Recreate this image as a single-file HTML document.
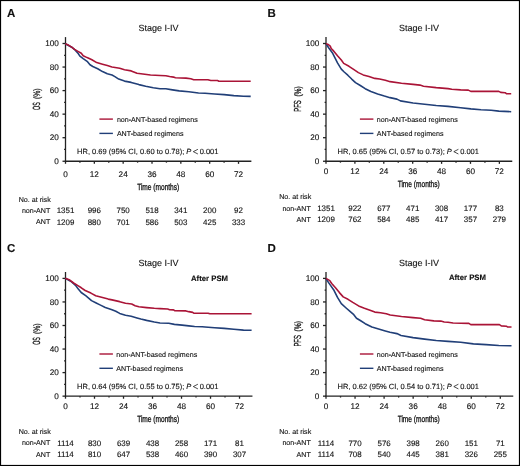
<!DOCTYPE html><html><head><meta charset="utf-8"><title>Kaplan-Meier curves</title><style>html,body{margin:0;padding:0;background:#fff}svg{display:block}text{font-family:"Liberation Sans", sans-serif;fill:#111;stroke:#111;stroke-width:0.12px;text-rendering:geometricPrecision}svg{will-change:transform}</style></head><body>
<svg width="520" height="466" viewBox="0 0 520 466">
<rect x="0" y="0" width="520" height="466" fill="#fff"/>
<rect x="0.5" y="0.5" width="519" height="465" fill="none" stroke="#000" stroke-width="1.2"/>
<g transform="translate(0,0)">
<text x="7" y="17" font-size="11.5" font-weight="bold" fill="#000">A</text>
<text x="158.4" y="31.2" font-size="9" text-anchor="middle">Stage I-IV</text>
<g stroke="#222" stroke-width="1.3" fill="none">
<path d="M65.5 37.1V163.8"/>
<path d="M64.9 161.25H251.37"/>
<path d="M62.5 161.25H65.5"/>
<path d="M64.1 149.47H65.5"/>
<path d="M62.5 137.7H65.5"/>
<path d="M64.1 125.92H65.5"/>
<path d="M62.5 114.15H65.5"/>
<path d="M64.1 102.38H65.5"/>
<path d="M62.5 90.6H65.5"/>
<path d="M64.1 78.83H65.5"/>
<path d="M62.5 67.05H65.5"/>
<path d="M64.1 55.28H65.5"/>
<path d="M62.5 43.5H65.5"/>
<path d="M79.92 161.25V162.65"/>
<path d="M94.34 161.25V163.85"/>
<path d="M108.75 161.25V162.65"/>
<path d="M123.17 161.25V163.85"/>
<path d="M137.59 161.25V162.65"/>
<path d="M152.01 161.25V163.85"/>
<path d="M166.43 161.25V162.65"/>
<path d="M180.84 161.25V163.85"/>
<path d="M195.26 161.25V162.65"/>
<path d="M209.68 161.25V163.85"/>
<path d="M224.1 161.25V162.65"/>
<path d="M238.52 161.25V163.85"/>
</g>
<text x="58.9" y="163.85" font-size="8.2" text-anchor="end">0</text>
<text x="58.9" y="140.3" font-size="8.2" text-anchor="end">20</text>
<text x="58.9" y="116.75" font-size="8.2" text-anchor="end">40</text>
<text x="58.9" y="93.2" font-size="8.2" text-anchor="end">60</text>
<text x="58.9" y="69.65" font-size="8.2" text-anchor="end">80</text>
<text x="58.9" y="46.1" font-size="8.2" text-anchor="end">100</text>
<text transform="translate(40.1,109.9) rotate(-90) scale(0.51,1)" font-size="10.4" style="stroke-width:0.3px;text-rendering:geometricPrecision">OS</text>
<text transform="translate(40.1,99.1) rotate(-90) scale(0.73,1)" font-size="9.4" style="stroke-width:0.3px;text-rendering:geometricPrecision">(%)</text>
<path d="M99.4 119.1H112.9" stroke="#aa1437" stroke-width="1.4"/>
<path d="M99.4 133.4H112.9" stroke="#213f78" stroke-width="1.4"/>
<text x="116.9" y="122.2" font-size="7.1">non-ANT-based regimens</text>
<text x="116.9" y="136" font-size="7.1">ANT-based regimens</text>
<text x="77.1" y="154.3" font-size="7.5">HR, 0.69 (95% CI, 0.60 to 0.78); <tspan font-style="italic">P</tspan><tspan x="199.7">0.001</tspan></text>
<path d="M197.9 149.3L193.3 151.65L197.9 154" fill="none" stroke="#111" stroke-width="0.75"/>
<g transform="translate(0,0)">
<text x="65.5" y="176.8" font-size="8.2" text-anchor="middle">0</text>
<text x="94.34" y="176.8" font-size="8.2" text-anchor="middle">12</text>
<text x="123.17" y="176.8" font-size="8.2" text-anchor="middle">24</text>
<text x="152.01" y="176.8" font-size="8.2" text-anchor="middle">36</text>
<text x="180.84" y="176.8" font-size="8.2" text-anchor="middle">48</text>
<text x="209.68" y="176.8" font-size="8.2" text-anchor="middle">60</text>
<text x="238.52" y="176.8" font-size="8.2" text-anchor="middle">72</text>
<text transform="translate(158.2,189.6) scale(0.73,1)" font-size="9" text-anchor="middle" style="stroke-width:0.3px">Time (months)</text>
<text x="18.75" y="201.75" font-size="7.1">No. at risk</text>
<text x="50.3" y="212.9" font-size="7.1" text-anchor="end">non-ANT</text>
<text x="50.3" y="224.3" font-size="7.1" text-anchor="end">ANT</text>
<text x="65.5" y="213.2" font-size="7.95" text-anchor="middle">1351</text>
<text x="65.5" y="224.5" font-size="7.95" text-anchor="middle">1209</text>
<text x="94.34" y="213.2" font-size="7.95" text-anchor="middle">996</text>
<text x="94.34" y="224.5" font-size="7.95" text-anchor="middle">880</text>
<text x="123.17" y="213.2" font-size="7.95" text-anchor="middle">750</text>
<text x="123.17" y="224.5" font-size="7.95" text-anchor="middle">701</text>
<text x="152.01" y="213.2" font-size="7.95" text-anchor="middle">518</text>
<text x="152.01" y="224.5" font-size="7.95" text-anchor="middle">586</text>
<text x="180.84" y="213.2" font-size="7.95" text-anchor="middle">341</text>
<text x="180.84" y="224.5" font-size="7.95" text-anchor="middle">503</text>
<text x="209.68" y="213.2" font-size="7.95" text-anchor="middle">200</text>
<text x="209.68" y="224.5" font-size="7.95" text-anchor="middle">425</text>
<text x="238.52" y="213.2" font-size="7.95" text-anchor="middle">92</text>
<text x="238.52" y="224.5" font-size="7.95" text-anchor="middle">333</text>
</g>
</g>
<path d="M65.3 43.7 71.7 47.2 75.5 50.4 78.4 53.8 79.9 56.2 83.2 58.6 87.1 61.3 90 64.8 92.8 66.5 97.7 68.7 102.5 71.6 107.3 73.8 112 75 114.9 76.6 118.7 79.05 124.5 81.1 131.2 82.4 138.9 84.6 145.7 86.3 153.3 87.8 160 88.7 165.8 88.8 172.5 89.9 179.2 90.9 188.8 91.8 198.5 93 205 93.2 214.6 94 224.2 94.6 233.8 95.6 243.5 96.3 250.7 96.4" fill="none" stroke="#213f78" stroke-width="1.6" stroke-linejoin="round" stroke-linecap="butt"/>
<path d="M65.3 43.7 68.8 45.3 71.7 47.2 74.6 49.4 77.5 51.1 81.3 53.3 83.2 55.7 87.1 57.6 91.9 59.8 96.7 62.6 102.5 64.3 107.3 65.6 112 67 119.7 68.3 124.5 69.7 131.2 70.9 137 73.3 142.8 74.05 150.5 75 160 75.5 165.8 75.7 169.6 76.5 173.5 77.1 175.4 77.8 186 78.1 190.8 78.8 193.7 79.7 207.9 79.7 210.8 80.5 217.5 80.5 218.9 81.2 250.7 81.2" fill="none" stroke="#aa1437" stroke-width="1.6" stroke-linejoin="round" stroke-linecap="butt"/>
<g transform="translate(260.5,0)">
<text x="7" y="17" font-size="11.5" font-weight="bold" fill="#000">B</text>
<text x="158.4" y="31.2" font-size="9" text-anchor="middle">Stage I-IV</text>
<g stroke="#222" stroke-width="1.3" fill="none">
<path d="M65.5 37.1V163.8"/>
<path d="M64.9 161.25H251.76"/>
<path d="M62.5 161.25H65.5"/>
<path d="M64.1 149.47H65.5"/>
<path d="M62.5 137.7H65.5"/>
<path d="M64.1 125.92H65.5"/>
<path d="M62.5 114.15H65.5"/>
<path d="M64.1 102.38H65.5"/>
<path d="M62.5 90.6H65.5"/>
<path d="M64.1 78.83H65.5"/>
<path d="M62.5 67.05H65.5"/>
<path d="M64.1 55.28H65.5"/>
<path d="M62.5 43.5H65.5"/>
<path d="M79.95 161.25V162.65"/>
<path d="M94.4 161.25V163.85"/>
<path d="M108.84 161.25V162.65"/>
<path d="M123.29 161.25V163.85"/>
<path d="M137.74 161.25V162.65"/>
<path d="M152.19 161.25V163.85"/>
<path d="M166.64 161.25V162.65"/>
<path d="M181.08 161.25V163.85"/>
<path d="M195.53 161.25V162.65"/>
<path d="M209.98 161.25V163.85"/>
<path d="M224.43 161.25V162.65"/>
<path d="M238.88 161.25V163.85"/>
</g>
<text x="58.9" y="163.85" font-size="8.2" text-anchor="end">0</text>
<text x="58.9" y="140.3" font-size="8.2" text-anchor="end">20</text>
<text x="58.9" y="116.75" font-size="8.2" text-anchor="end">40</text>
<text x="58.9" y="93.2" font-size="8.2" text-anchor="end">60</text>
<text x="58.9" y="69.65" font-size="8.2" text-anchor="end">80</text>
<text x="58.9" y="46.1" font-size="8.2" text-anchor="end">100</text>
<text transform="translate(40.1,111.7) rotate(-90) scale(0.58,1)" font-size="10.2" style="stroke-width:0.3px;text-rendering:geometricPrecision">PFS</text>
<text transform="translate(40.1,96.6) rotate(-90) scale(0.71,1)" font-size="9.4" style="stroke-width:0.3px;text-rendering:geometricPrecision">(%)</text>
<path d="M99.4 119.1H112.9" stroke="#aa1437" stroke-width="1.4"/>
<path d="M99.4 133.4H112.9" stroke="#213f78" stroke-width="1.4"/>
<text x="116.35" y="122.2" font-size="7.1">non-ANT-based regimens</text>
<text x="116.35" y="136" font-size="7.1">ANT-based regimens</text>
<text x="77.1" y="154.3" font-size="7.5">HR, 0.65 (95% CI, 0.57 to 0.73); <tspan font-style="italic">P</tspan><tspan x="199.7">0.001</tspan></text>
<path d="M197.9 149.3L193.3 151.65L197.9 154" fill="none" stroke="#111" stroke-width="0.75"/>
<g transform="translate(0,-2.35)">
<text x="65.5" y="176.8" font-size="8.2" text-anchor="middle">0</text>
<text x="94.4" y="176.8" font-size="8.2" text-anchor="middle">12</text>
<text x="123.29" y="176.8" font-size="8.2" text-anchor="middle">24</text>
<text x="152.19" y="176.8" font-size="8.2" text-anchor="middle">36</text>
<text x="181.08" y="176.8" font-size="8.2" text-anchor="middle">48</text>
<text x="209.98" y="176.8" font-size="8.2" text-anchor="middle">60</text>
<text x="238.88" y="176.8" font-size="8.2" text-anchor="middle">72</text>
<text transform="translate(158.2,189.6) scale(0.73,1)" font-size="9" text-anchor="middle" style="stroke-width:0.3px">Time (months)</text>
<text x="18.75" y="201.75" font-size="7.1">No. at risk</text>
<text x="50.3" y="212.9" font-size="7.1" text-anchor="end">non-ANT</text>
<text x="50.3" y="224.3" font-size="7.1" text-anchor="end">ANT</text>
<text x="65.5" y="213.2" font-size="7.95" text-anchor="middle">1351</text>
<text x="65.5" y="224.5" font-size="7.95" text-anchor="middle">1209</text>
<text x="94.4" y="213.2" font-size="7.95" text-anchor="middle">922</text>
<text x="94.4" y="224.5" font-size="7.95" text-anchor="middle">762</text>
<text x="123.29" y="213.2" font-size="7.95" text-anchor="middle">677</text>
<text x="123.29" y="224.5" font-size="7.95" text-anchor="middle">584</text>
<text x="152.19" y="213.2" font-size="7.95" text-anchor="middle">471</text>
<text x="152.19" y="224.5" font-size="7.95" text-anchor="middle">485</text>
<text x="181.08" y="213.2" font-size="7.95" text-anchor="middle">308</text>
<text x="181.08" y="224.5" font-size="7.95" text-anchor="middle">417</text>
<text x="209.98" y="213.2" font-size="7.95" text-anchor="middle">177</text>
<text x="209.98" y="224.5" font-size="7.95" text-anchor="middle">357</text>
<text x="238.88" y="213.2" font-size="7.95" text-anchor="middle">83</text>
<text x="238.88" y="224.5" font-size="7.95" text-anchor="middle">279</text>
</g>
</g>
<path d="M326 43.9 328.8 48 332.7 53.3 334.6 57.1 337.5 62.9 341.3 69.1 344.2 72 347.8 75.2 351.7 79.05 355.5 82.6 360.3 85.5 365.2 88.7 370.9 91.55 377.65 93.95 384.4 96.1 390 97.65 396.9 99.15 400.4 100.9 413.1 102.95 424.6 104.3 436.2 105.5 448 106.4 460.7 107.7 470.8 108.9 481 109.8 491.2 110.2 498.8 111.1 511.2 111.7" fill="none" stroke="#213f78" stroke-width="1.6" stroke-linejoin="round" stroke-linecap="butt"/>
<path d="M326 43.7 328.3 44.6 330.25 46.1 331.2 48.5 333.6 50.9 337.5 55.7 341.3 60 343.7 63.4 349 66.3 353.6 69.4 358.4 72.6 363.2 74.9 369 76.45 374.8 78.4 379.6 79.05 385.3 80.3 390.2 81.65 401.5 83.2 413.1 84.4 420 85.1 423.5 86.2 436.2 87.6 448 88.6 451.8 89.3 460.7 89.9 468.3 90.15 470.8 91.4 498.8 91.4 500.7 92.4 505.1 92.7 506.4 93.7 511.2 93.7" fill="none" stroke="#aa1437" stroke-width="1.6" stroke-linejoin="round" stroke-linecap="butt"/>
<g transform="translate(0,234.9)">
<text x="7" y="17" font-size="11.5" font-weight="bold" fill="#000">C</text>
<text x="158.4" y="31.2" font-size="9" text-anchor="middle">Stage I-IV</text>
<text x="191" y="46.3" font-size="7.75" font-weight="bold" fill="#000">After PSM</text>
<g stroke="#222" stroke-width="1.3" fill="none">
<path d="M65.5 37.1V163.8"/>
<path d="M64.9 161.25H252.45"/>
<path d="M62.5 161.25H65.5"/>
<path d="M64.1 149.47H65.5"/>
<path d="M62.5 137.7H65.5"/>
<path d="M64.1 125.92H65.5"/>
<path d="M62.5 114.15H65.5"/>
<path d="M64.1 102.38H65.5"/>
<path d="M62.5 90.6H65.5"/>
<path d="M64.1 78.83H65.5"/>
<path d="M62.5 67.05H65.5"/>
<path d="M64.1 55.28H65.5"/>
<path d="M62.5 43.5H65.5"/>
<path d="M80 161.25V162.65"/>
<path d="M94.5 161.25V163.85"/>
<path d="M109.01 161.25V162.65"/>
<path d="M123.51 161.25V163.85"/>
<path d="M138.01 161.25V162.65"/>
<path d="M152.51 161.25V163.85"/>
<path d="M167.01 161.25V162.65"/>
<path d="M181.52 161.25V163.85"/>
<path d="M196.02 161.25V162.65"/>
<path d="M210.52 161.25V163.85"/>
<path d="M225.02 161.25V162.65"/>
<path d="M239.52 161.25V163.85"/>
</g>
<text x="58.9" y="163.85" font-size="8.2" text-anchor="end">0</text>
<text x="58.9" y="140.3" font-size="8.2" text-anchor="end">20</text>
<text x="58.9" y="116.75" font-size="8.2" text-anchor="end">40</text>
<text x="58.9" y="93.2" font-size="8.2" text-anchor="end">60</text>
<text x="58.9" y="69.65" font-size="8.2" text-anchor="end">80</text>
<text x="58.9" y="46.1" font-size="8.2" text-anchor="end">100</text>
<text transform="translate(40.1,109.9) rotate(-90) scale(0.51,1)" font-size="10.4" style="stroke-width:0.3px;text-rendering:geometricPrecision">OS</text>
<text transform="translate(40.1,99.1) rotate(-90) scale(0.73,1)" font-size="9.4" style="stroke-width:0.3px;text-rendering:geometricPrecision">(%)</text>
<path d="M99.4 119.1H112.9" stroke="#aa1437" stroke-width="1.4"/>
<path d="M99.4 133.4H112.9" stroke="#213f78" stroke-width="1.4"/>
<text x="116.35" y="122.2" font-size="7.1">non-ANT-based regimens</text>
<text x="116.35" y="136" font-size="7.1">ANT-based regimens</text>
<text x="77.1" y="154.3" font-size="7.5">HR, 0.64 (95% CI, 0.55 to 0.75); <tspan font-style="italic">P</tspan><tspan x="199.7">0.001</tspan></text>
<path d="M197.9 149.3L193.3 151.65L197.9 154" fill="none" stroke="#111" stroke-width="0.75"/>
<g transform="translate(0,-2.4)">
<text x="65.5" y="176.8" font-size="8.2" text-anchor="middle">0</text>
<text x="94.5" y="176.8" font-size="8.2" text-anchor="middle">12</text>
<text x="123.51" y="176.8" font-size="8.2" text-anchor="middle">24</text>
<text x="152.51" y="176.8" font-size="8.2" text-anchor="middle">36</text>
<text x="181.52" y="176.8" font-size="8.2" text-anchor="middle">48</text>
<text x="210.52" y="176.8" font-size="8.2" text-anchor="middle">60</text>
<text x="239.52" y="176.8" font-size="8.2" text-anchor="middle">72</text>
<text transform="translate(158.2,189.6) scale(0.73,1)" font-size="9" text-anchor="middle" style="stroke-width:0.3px">Time (months)</text>
<text x="18.75" y="201.75" font-size="7.1">No. at risk</text>
<text x="50.3" y="212.9" font-size="7.1" text-anchor="end">non-ANT</text>
<text x="50.3" y="224.3" font-size="7.1" text-anchor="end">ANT</text>
<text x="65.5" y="213.2" font-size="7.95" text-anchor="middle">1114</text>
<text x="65.5" y="224.5" font-size="7.95" text-anchor="middle">1114</text>
<text x="94.5" y="213.2" font-size="7.95" text-anchor="middle">830</text>
<text x="94.5" y="224.5" font-size="7.95" text-anchor="middle">810</text>
<text x="123.51" y="213.2" font-size="7.95" text-anchor="middle">639</text>
<text x="123.51" y="224.5" font-size="7.95" text-anchor="middle">647</text>
<text x="152.51" y="213.2" font-size="7.95" text-anchor="middle">438</text>
<text x="152.51" y="224.5" font-size="7.95" text-anchor="middle">538</text>
<text x="181.52" y="213.2" font-size="7.95" text-anchor="middle">258</text>
<text x="181.52" y="224.5" font-size="7.95" text-anchor="middle">460</text>
<text x="210.52" y="213.2" font-size="7.95" text-anchor="middle">171</text>
<text x="210.52" y="224.5" font-size="7.95" text-anchor="middle">390</text>
<text x="239.52" y="213.2" font-size="7.95" text-anchor="middle">81</text>
<text x="239.52" y="224.5" font-size="7.95" text-anchor="middle">307</text>
</g>
</g>
<path d="M65.3 278.3 71.6 281.9 75.5 285.3 78.3 289.1 81.2 292.5 86 295.9 88.9 298.3 91.5 300.6 95.7 302.7 100.5 305.1 105.3 307.5 112 309.8 115.8 311.3 119.7 313.4 125.5 315.3 131.2 316.3 137 317.9 140.8 318.95 146.6 320.4 154.3 322 160 323 168.7 323.2 174.4 324.4 182.1 325.1 188.8 325.9 194.6 326.55 202.3 326.8 205 327 214.6 327.7 224.2 328.4 233.8 329.3 243.5 330.1 251.6 330.3" fill="none" stroke="#213f78" stroke-width="1.6" stroke-linejoin="round" stroke-linecap="butt"/>
<path d="M65.3 278.3 69.8 280.1 73.6 283 77.5 285.4 81.3 287.8 85.2 290.5 90.9 293.1 95.7 295.7 102.5 297.6 108.2 299.1 112 299.9 119.7 301.65 125.5 303.3 131.7 303.95 135.1 305.7 138.9 306.8 146.6 307.6 154.3 308.3 160 308.6 167.7 308.95 169.6 309.7 173.5 309.9 174.9 310.7 186 310.9 188.8 311.65 192.7 312.4 194.1 313.3 208.1 313.3 209.8 313.8 251.6 313.8" fill="none" stroke="#aa1437" stroke-width="1.6" stroke-linejoin="round" stroke-linecap="butt"/>
<g transform="translate(260.5,234.9)">
<text x="7" y="17" font-size="11.5" font-weight="bold" fill="#000">D</text>
<text x="158.4" y="31.2" font-size="9" text-anchor="middle">Stage I-IV</text>
<text x="188.4" y="45.6" font-size="7.75" font-weight="bold" fill="#000">After PSM</text>
<g stroke="#222" stroke-width="1.3" fill="none">
<path d="M65.5 37.1V163.8"/>
<path d="M64.9 161.25H252.76"/>
<path d="M62.5 161.25H65.5"/>
<path d="M64.1 149.47H65.5"/>
<path d="M62.5 137.7H65.5"/>
<path d="M64.1 125.92H65.5"/>
<path d="M62.5 114.15H65.5"/>
<path d="M64.1 102.38H65.5"/>
<path d="M62.5 90.6H65.5"/>
<path d="M64.1 78.83H65.5"/>
<path d="M62.5 67.05H65.5"/>
<path d="M64.1 55.28H65.5"/>
<path d="M62.5 43.5H65.5"/>
<path d="M80.03 161.25V162.65"/>
<path d="M94.55 161.25V163.85"/>
<path d="M109.08 161.25V162.65"/>
<path d="M123.6 161.25V163.85"/>
<path d="M138.13 161.25V162.65"/>
<path d="M152.66 161.25V163.85"/>
<path d="M167.18 161.25V162.65"/>
<path d="M181.71 161.25V163.85"/>
<path d="M196.23 161.25V162.65"/>
<path d="M210.76 161.25V163.85"/>
<path d="M225.29 161.25V162.65"/>
<path d="M239.81 161.25V163.85"/>
</g>
<text x="58.9" y="163.85" font-size="8.2" text-anchor="end">0</text>
<text x="58.9" y="140.3" font-size="8.2" text-anchor="end">20</text>
<text x="58.9" y="116.75" font-size="8.2" text-anchor="end">40</text>
<text x="58.9" y="93.2" font-size="8.2" text-anchor="end">60</text>
<text x="58.9" y="69.65" font-size="8.2" text-anchor="end">80</text>
<text x="58.9" y="46.1" font-size="8.2" text-anchor="end">100</text>
<text transform="translate(40.1,111.7) rotate(-90) scale(0.58,1)" font-size="10.2" style="stroke-width:0.3px;text-rendering:geometricPrecision">PFS</text>
<text transform="translate(40.1,96.6) rotate(-90) scale(0.71,1)" font-size="9.4" style="stroke-width:0.3px;text-rendering:geometricPrecision">(%)</text>
<path d="M99.4 119.1H112.9" stroke="#aa1437" stroke-width="1.4"/>
<path d="M99.4 133.4H112.9" stroke="#213f78" stroke-width="1.4"/>
<text x="116.35" y="122.2" font-size="7.1">non-ANT-based regimens</text>
<text x="116.35" y="136" font-size="7.1">ANT-based regimens</text>
<text x="77.1" y="154.3" font-size="7.5">HR, 0.62 (95% CI, 0.54 to 0.71); <tspan font-style="italic">P</tspan><tspan x="199.7">0.001</tspan></text>
<path d="M197.9 149.3L193.3 151.65L197.9 154" fill="none" stroke="#111" stroke-width="0.75"/>
<g transform="translate(0,-2.4)">
<text x="65.5" y="176.8" font-size="8.2" text-anchor="middle">0</text>
<text x="94.55" y="176.8" font-size="8.2" text-anchor="middle">12</text>
<text x="123.6" y="176.8" font-size="8.2" text-anchor="middle">24</text>
<text x="152.66" y="176.8" font-size="8.2" text-anchor="middle">36</text>
<text x="181.71" y="176.8" font-size="8.2" text-anchor="middle">48</text>
<text x="210.76" y="176.8" font-size="8.2" text-anchor="middle">60</text>
<text x="239.81" y="176.8" font-size="8.2" text-anchor="middle">72</text>
<text transform="translate(158.2,189.6) scale(0.73,1)" font-size="9" text-anchor="middle" style="stroke-width:0.3px">Time (months)</text>
<text x="18.75" y="201.75" font-size="7.1">No. at risk</text>
<text x="50.3" y="212.9" font-size="7.1" text-anchor="end">non-ANT</text>
<text x="50.3" y="224.3" font-size="7.1" text-anchor="end">ANT</text>
<text x="65.5" y="213.2" font-size="7.95" text-anchor="middle">1114</text>
<text x="65.5" y="224.5" font-size="7.95" text-anchor="middle">1114</text>
<text x="94.55" y="213.2" font-size="7.95" text-anchor="middle">770</text>
<text x="94.55" y="224.5" font-size="7.95" text-anchor="middle">708</text>
<text x="123.6" y="213.2" font-size="7.95" text-anchor="middle">576</text>
<text x="123.6" y="224.5" font-size="7.95" text-anchor="middle">540</text>
<text x="152.66" y="213.2" font-size="7.95" text-anchor="middle">398</text>
<text x="152.66" y="224.5" font-size="7.95" text-anchor="middle">445</text>
<text x="181.71" y="213.2" font-size="7.95" text-anchor="middle">260</text>
<text x="181.71" y="224.5" font-size="7.95" text-anchor="middle">381</text>
<text x="210.76" y="213.2" font-size="7.95" text-anchor="middle">151</text>
<text x="210.76" y="224.5" font-size="7.95" text-anchor="middle">326</text>
<text x="239.81" y="213.2" font-size="7.95" text-anchor="middle">71</text>
<text x="239.81" y="224.5" font-size="7.95" text-anchor="middle">255</text>
</g>
</g>
<path d="M326 278.9 329.8 284.4 333.6 289.7 337.5 297.4 341.3 303.7 346.1 308 350 311.4 353.8 314.7 356.5 318.2 360.3 320.5 365.2 323.7 371.9 327 378.6 328.95 385.3 330.9 390 332.2 396.9 333.6 401 335.5 413.1 337.6 424.6 339.1 436.2 340.5 448 341.4 460.7 342.3 473.4 343.9 486.1 344.6 498.8 345.5 511.5 345.8" fill="none" stroke="#213f78" stroke-width="1.6" stroke-linejoin="round" stroke-linecap="butt"/>
<path d="M326 278.4 329.8 280.6 331.7 283.5 335.5 287.8 339.4 292.6 343.2 296.9 348 299.3 352.8 302.4 358.6 305.9 364.4 308.2 370 310.2 374.8 312.1 380.5 312.8 386.3 313.8 390.2 315 401.5 316.5 413.1 317.6 420.6 318.2 424.6 319.7 433.8 320.9 440.8 321.1 444.2 322 448 322.2 453.1 323 460.7 323.2 468.9 323.4 470.8 324.6 499.4 324.6 501.3 325.9 506.4 326.2 507.7 327.05 511.5 327.05" fill="none" stroke="#aa1437" stroke-width="1.6" stroke-linejoin="round" stroke-linecap="butt"/>
</svg></body></html>
